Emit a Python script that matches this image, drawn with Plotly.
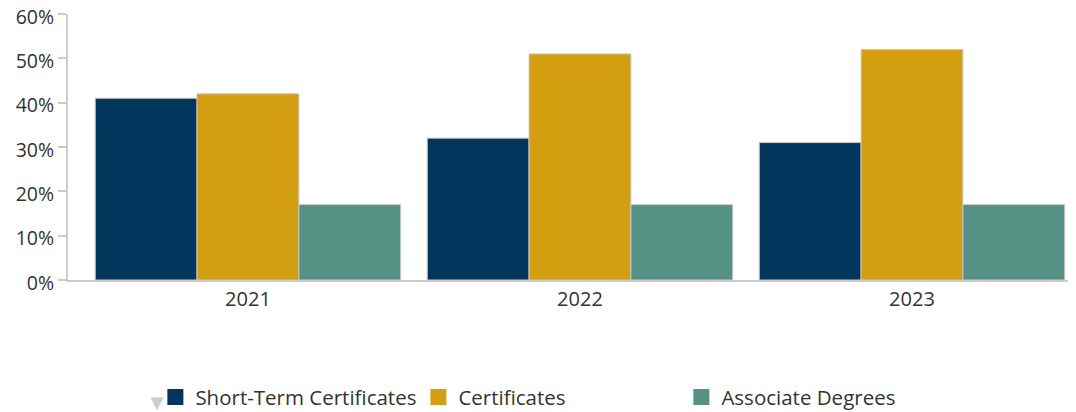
import plotly.graph_objects as go

years = ["2021", "2022", "2023"]
short_term = [41, 32, 31]
certificates = [42, 51, 52]
associate = [17, 17, 17]
y_ticks = [0, 10, 20, 30, 40, 50, 60]
y_tick_labels = ["0%", "10%", "20%", "30%", "40%", "50%", "60%"]

series = [
    ("Short-Term Certificates", short_term, "#03365C"),
    ("Certificates", certificates, "#D49E11"),
    ("Associate Degrees", associate, "#569283"),
]

fig = go.Figure()
for name, vals, color in series:
    fig.add_trace(go.Bar(
        x=years, y=vals, name=name, showlegend=False, legendgroup=name,
        marker=dict(color=color, line=dict(color="#C8C8C8", width=1)),
    ))
for name, vals, color in series:
    fig.add_trace(go.Scatter(
        x=[None], y=[None], name=name, legendgroup=name, mode="markers",
        marker=dict(symbol="square", size=16, color=color),
    ))

# page body has an 8px margin, so the figure is 8px smaller and margins shifted
fig.update_layout(
    width=1068, height=404,
    margin=dict(l=60, r=0, t=6, b=132, autoexpand=False),
    plot_bgcolor="white", paper_bgcolor="white",
    barmode="group", bargap=0.08, bargroupgap=0,
    font=dict(family="Open Sans", size=20, color="#333333"),
    showlegend=True,
    legend=dict(
        orientation="h", xref="container", yref="container",
        x=0.138, y=0.037, xanchor="left", yanchor="middle",
        entrywidth=218, entrywidthmode="pixels",
        font=dict(size=20.5, color="#333333"),
        itemwidth=30, tracegroupgap=0, itemsizing="trace",
    ),
    xaxis=dict(
        type="category", range=[-0.542, 2.494],
        showline=True, linecolor="#CCCCCC", linewidth=2,
        ticks="", showgrid=False, tickfont=dict(size=20, color="#333333"),
    ),
    yaxis=dict(
        range=[0, 60], tickvals=y_ticks, ticktext=y_tick_labels,
        showline=True, linecolor="#CCCCCC", linewidth=2,
        ticks="outside", ticklen=8, tickcolor="#CCCCCC", tickwidth=2,
        showgrid=False, zeroline=False, ticklabeloverflow="allow",
        ticklabelshift=3,
        tickfont=dict(size=19.5, color="#333333"),
    ),
)
# legend scroll arrow (decoration)
fig.add_annotation(
    text="▼", xref="paper", yref="paper", x=0.088, y=-0.455,
    xanchor="center", yanchor="middle",
    showarrow=False, font=dict(size=22, color="#CCCCCC"),
)
fig.write_html("out.html")
